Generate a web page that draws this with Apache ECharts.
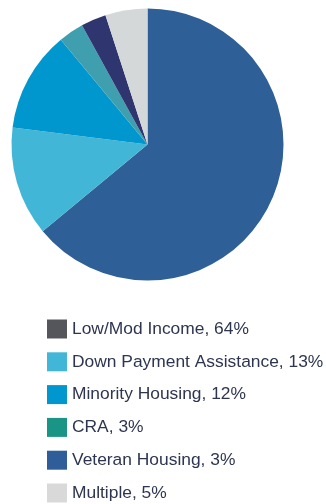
<!DOCTYPE html>
<html>
<head>
<meta charset="utf-8">
<script src="https://cdn.jsdelivr.net/npm/echarts@6/dist/echarts.min.js"></script>
<style>
  html, body { margin: 0; padding: 0; background: #fff; }
  #pie_chart { width: 326px; height: 504px; }
</style>
</head>
<body>
<div id="pie_chart"></div>
<script>
  // 数据
  const categories = ['Low/Mod Income', 'Down Payment Assistance', 'Minority Housing', 'CRA', 'Veteran Housing', 'Multiple'];
  const shares = [64, 13, 12, 3, 3, 5];
  const sliceColors = ['#2E5F96', '#41B6D6', '#0097CE', '#3F9FAE', '#2F356E', '#D5D8D8'];
  const legendColors = ['#54565B', '#41B6D6', '#0097CE', '#1A9585', '#2E5D99', '#D9D9D9'];

  const chart = echarts.init(document.getElementById('pie_chart'));
  const option = {
    animation: false,
    legend: {
      orient: 'vertical',
      left: 47,
      top: 319.5,
      height: 190,
      padding: 0,
      icon: 'rect',
      itemWidth: 20,
      itemHeight: 19,
      itemGap: 13.8,
      itemTextGap: 6,
      itemStyle: { borderWidth: 0 },
      textStyle: {
        fontFamily: 'Liberation Sans, Arial, sans-serif',
        fontSize: 17.4,
        color: '#2E3550'
      },
      formatter: (name) => {
        const i = categories.indexOf(name);
        return name + ', ' + shares[i] + '%';
      },
      data: categories.map((name, i) => ({
        name: name,
        itemStyle: { color: legendColors[i] }
      }))
    },
    series: [
      {
        type: 'pie',
        center: [147.5, 144.5],
        radius: [0, 136],
        startAngle: 90,
        clockwise: true,
        label: { show: false },
        labelLine: { show: false },
        emphasis: { disabled: true },
        itemStyle: { borderWidth: 0 },
        data: categories.map((name, i) => ({
          name: name,
          value: shares[i],
          itemStyle: { color: sliceColors[i] }
        }))
      }
    ]
  };
  chart.setOption(option, true);
</script>
</body>
</html>
